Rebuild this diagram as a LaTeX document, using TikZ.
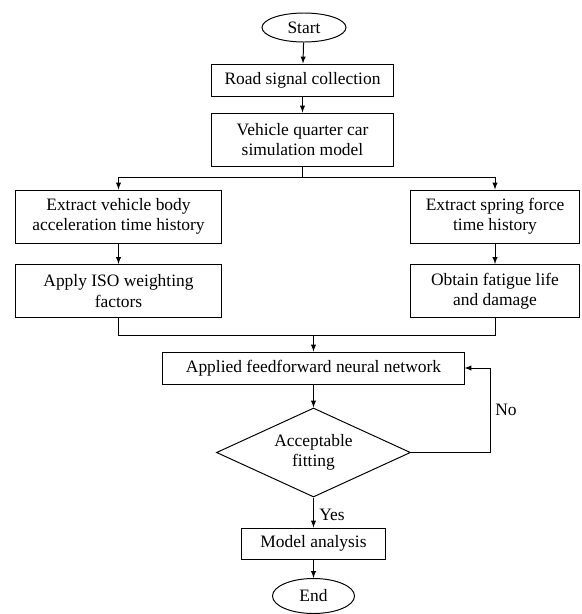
\documentclass[tikz,border=0pt]{standalone}
\usepackage{fontspec}
\setmainfont{Liberation Serif}
\usetikzlibrary{shapes.geometric}

\begin{document}
\begin{tikzpicture}[x=0.025cm,y=-0.025cm,>=latex,
        every node/.style={font=\fontsize{12.4}{14.4}\selectfont,align=center,inner sep=0pt},
        box/.style={draw,line width=0.7pt,rectangle,minimum height=1.325cm},
        oval/.style={draw,line width=0.7pt,ellipse},
        line/.style={line width=0.7pt}]
                \useasboundingbox (0,0) rectangle (582,614);

                \node[oval,minimum width=2.1cm,minimum height=0.725cm] (start) at (304,27.5) {Start};
                \node[box,minimum width=4.525cm,minimum height=0.8cm] (road) at (302.5,80) {Road signal collection};
                \node[box,minimum width=4.525cm] (quarter) at (302.5,139.5) {Vehicle quarter car\\simulation model};

                \node[box,minimum width=5.125cm] (accel) at (118.5,216.5) {Extract vehicle body\\acceleration time history};
                \node[box,minimum width=5.125cm] (iso) at (118.5,291) {Apply ISO weighting\\factors};
                \node[box,minimum width=4.2cm] (spring) at (495,216.5) {Extract spring force\\time history};
                \node[box,minimum width=4.2cm] (fatigue) at (495,291) {Obtain fatigue life\\and damage};

                \node[box,minimum width=7.525cm,minimum height=0.8cm] (ffnn) at (313.5,368) {Applied feedforward neural network};
                \node[draw,line width=0.7pt,diamond,aspect=2.18,minimum width=4.85cm,minimum height=2.225cm] (fit) at (313.5,452.5) {Acceptable\\fitting};
                \node[box,minimum width=3.575cm,minimum height=0.775cm] (model) at (313.5,543.5) {Model analysis};
                \node[oval,minimum width=2.05cm,minimum height=0.875cm] (end) at (313.5,596) {End};

                \coordinate (split) at (302.5,177);
                \coordinate (join) at (313.5,335);
                \coordinate (back) at (490,452.5);

                \draw[line,->] (start) -- (road);
                \draw[line,->] (road) -- (quarter);
                \draw[line] (quarter) -- (split);
                \draw[line,->] (split) -| (accel);
                \draw[line,->] (split) -| (spring);
                \draw[line,->] (accel) -- (iso);
                \draw[line,->] (spring) -- (fatigue);
                \draw[line] (iso) |- (join);
                \draw[line] (fatigue) |- (join);
                \draw[line,->] (join) -- (ffnn);
                \draw[line,->] (ffnn) -- (fit);
                \draw[line] (fit.east) -- (back);
                \draw[line,->] (back) |- (ffnn.east);
                \node (no) at (506,410) {No};
                \draw[line,->] (fit) -- (model);
                \node (yes) at (332,515) {Yes};
                \draw[line,->] (model) -- (end);
\end{tikzpicture}
\end{document}
